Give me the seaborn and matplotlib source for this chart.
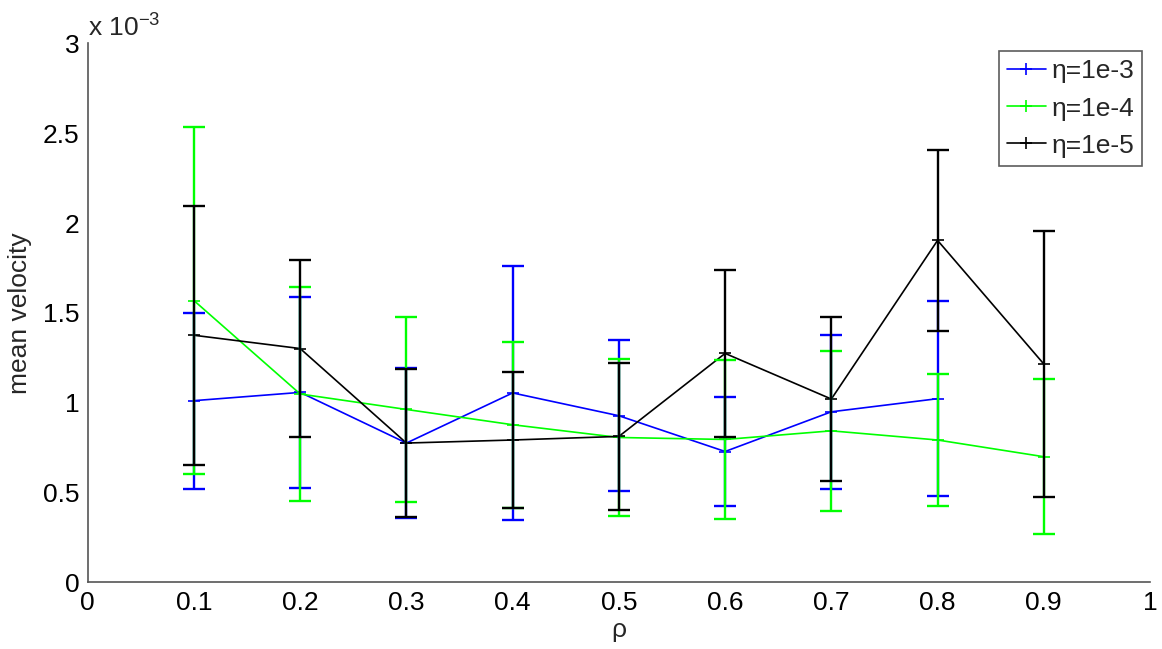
import numpy as np
import pandas as pd
import matplotlib
matplotlib.use("Agg")
import matplotlib.pyplot as plt
import seaborn as sns

# ---- data (values in units of 1e-3) ----
rho = [0.1, 0.2, 0.3, 0.4, 0.5, 0.6, 0.7, 0.8, 0.9]
labels = ["η=1e-3", "η=1e-4", "η=1e-5"]
colors = ["#0000ff", "#00ff00", "#000000"]

mean_1e3 = [1.012, 1.058, 0.776, 1.055, 0.928, 0.729, 0.950, 1.023]
err_1e3 = [0.490, 0.530, 0.415, 0.705, 0.420, 0.305, 0.428, 0.543]

mean_1e4 = [1.569, 1.049, 0.963, 0.878, 0.807, 0.796, 0.844, 0.793, 0.700]
err_1e4 = [0.966, 0.594, 0.513, 0.463, 0.437, 0.440, 0.447, 0.366, 0.432]

mean_1e5 = [1.376, 1.302, 0.776, 0.793, 0.813, 1.275, 1.021, 1.904, 1.216]
err_1e5 = [0.720, 0.495, 0.410, 0.380, 0.409, 0.467, 0.457, 0.502, 0.738]

series = [(mean_1e3, err_1e3), (mean_1e4, err_1e4), (mean_1e5, err_1e5)]

xticks = [0, 0.1, 0.2, 0.3, 0.4, 0.5, 0.6, 0.7, 0.8, 0.9, 1]
xticklabels = ["0", "0.1", "0.2", "0.3", "0.4", "0.5", "0.6", "0.7", "0.8", "0.9", "1"]
yticks = [0, 0.5, 1, 1.5, 2, 2.5, 3]
yticklabels = ["0", "0.5", "1", "1.5", "2", "2.5", "3"]

# ---- style ----
sns.set_theme(style="white")
plt.rcParams["font.family"] = ["Liberation Sans", "DejaVu Sans"]
plt.rcParams["mathtext.fontset"] = "custom"
plt.rcParams["mathtext.rm"] = "Liberation Sans"
plt.rcParams["mathtext.it"] = "Liberation Sans"

fs = 19
axis_col = "#555555"

fig = plt.figure(figsize=(11.62, 6.49), dpi=100)
ax = fig.add_axes([0.0755, 0.1025, 0.9142, 0.8305])

for (m, e), lab, c in zip(series, labels, colors):
    xs = rho[:len(m)]
    df = pd.DataFrame({"rho": xs, "v": m})
    sns.lineplot(data=df, x="rho", y="v", color=c, marker="+", markersize=8,
                 markeredgewidth=1.2, markeredgecolor=c, linewidth=1.2,
                 label=lab, ax=ax, estimator=None, sort=False)
    ax.errorbar(xs, m, yerr=e, fmt="none", ecolor=c, elinewidth=1.7,
                capsize=8, capthick=1.7, zorder=3)

ax.set_xlim(0, 1)
ax.set_ylim(0, 3)
ax.set_xticks(xticks)
ax.set_xticklabels(xticklabels)
ax.set_yticks(yticks)
ax.set_yticklabels(yticklabels)
ax.tick_params(axis="both", direction="in", length=10, width=1.2,
               color=axis_col, labelsize=fs, labelcolor="black", pad=6)

for side in ["top", "right"]:
    ax.spines[side].set_visible(False)
for side in ["left", "bottom"]:
    ax.spines[side].set_color(axis_col)
    ax.spines[side].set_linewidth(1.2)

ax.set_xlabel("ρ", fontsize=fs, labelpad=2)
ax.set_ylabel("mean velocity", fontsize=fs, labelpad=8)

ax.text(0.0, 1.003, r"x 10$^{\mathrm{-3}}$", transform=ax.transAxes,
        fontsize=fs, ha="left", va="bottom")

leg = ax.legend(loc="upper right", fontsize=fs, frameon=True, fancybox=False,
                borderaxespad=0.3, handlelength=1.5, handletextpad=0.2,
                labelspacing=0.5, borderpad=0.3)
leg.get_frame().set_edgecolor("#333333")
leg.get_frame().set_linewidth(1.2)

fig.savefig("out.png", dpi=100)
